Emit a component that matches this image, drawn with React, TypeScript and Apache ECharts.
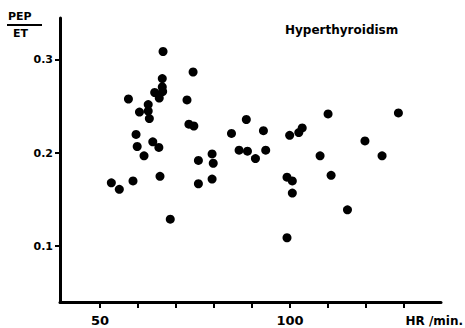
import React, { useEffect, useRef } from "react";
import * as echarts from "echarts";

const hr = [
  53.0, 55.1, 58.7, 57.5, 59.5, 59.8, 60.4, 61.6, 62.7, 62.7, 63.0, 63.9, 65.5,
  64.4, 65.6, 66.5, 66.4, 66.4, 66.6, 65.8, 68.5, 72.9, 73.4, 74.7, 74.5, 75.9,
  75.9, 79.5, 79.8, 79.5, 84.6, 88.5, 86.6, 88.8, 90.9, 93.0, 93.6, 99.9, 102.3,
  103.2, 99.2, 100.6, 100.6, 99.2, 107.9, 110.0, 110.8, 115.1, 119.7, 124.2, 128.5,
];
const pepEt = [
  0.168, 0.161, 0.17, 0.258, 0.22, 0.207, 0.244, 0.197, 0.252, 0.245, 0.237,
  0.212, 0.206, 0.265, 0.259, 0.266, 0.28, 0.271, 0.309, 0.175, 0.129, 0.257,
  0.231, 0.229, 0.287, 0.192, 0.167, 0.199, 0.189, 0.172, 0.221, 0.236, 0.203,
  0.202, 0.194, 0.224, 0.203, 0.219, 0.222, 0.227, 0.174, 0.17, 0.157, 0.109,
  0.197, 0.242, 0.176, 0.139, 0.213, 0.197, 0.243,
];
const xTicks = [50, 60, 70, 80, 90, 100, 110, 120, 130];
const xLabels = [50, 100];
const yTicks = [0.1, 0.2, 0.3];
const title = "Hyperthyroidism";
const xName = "HR /min.";
const yNameTop = "PEP";
const yNameBottom = "ET";

const FONT = "DejaVu Sans";

export default function App() {
  const ref = useRef<HTMLDivElement>(null);
  useEffect(() => {
    if (!ref.current) return;
    const chart = echarts.init(ref.current, null, { renderer: "svg" });
    const data = hr.map((x, i) => [x, pepEt[i]]);
    chart.setOption({
      animation: false,
      backgroundColor: "#fff",
      grid: { left: 60, right: 24, top: 18, bottom: 26, containLabel: false },
      xAxis: {
        type: "value",
        min: 39.5,
        max: 139.7,
        splitLine: { show: false },
        axisLine: { show: true, lineStyle: { color: "#000", width: 3 } },
        axisTick: {
          show: true,
          inside: false,
          length: 6,
          lineStyle: { color: "#000", width: 2 },
          customValues: xTicks,
        },
        axisLabel: {
          customValues: xLabels,
          margin: 12,
          color: "#000",
          fontFamily: FONT,
          fontWeight: "bold",
          fontSize: 13,
        },
      },
      yAxis: {
        type: "value",
        min: 0.04,
        max: 0.345,
        splitLine: { show: false },
        axisLine: { show: true, lineStyle: { color: "#000", width: 3 } },
        axisTick: {
          show: true,
          inside: false,
          length: 5,
          lineStyle: { color: "#000", width: 2 },
          customValues: yTicks,
        },
        axisLabel: {
          customValues: yTicks,
          margin: 7,
          color: "#000",
          fontFamily: FONT,
          fontWeight: "bold",
          fontSize: 11,
          formatter: (v: number) => v.toFixed(1),
        },
      },
      graphic: [
        {
          type: "text",
          left: 285,
          top: 24,
          style: {
            text: title,
            fill: "#000",
            font: `bold 12px "${FONT}"`,
          },
        },
        {
          type: "text",
          right: 2,
          top: 315,
          style: {
            text: xName,
            fill: "#000",
            font: `bold 12px "${FONT}"`,
          },
        },
        {
          type: "text",
          left: 8,
          top: 11,
          style: {
            text: yNameTop,
            fill: "#000",
            font: `bold 11px "${FONT}"`,
          },
        },
        {
          type: "line",
          shape: { x1: 7, y1: 25, x2: 42, y2: 25 },
          style: { stroke: "#000", lineWidth: 2 },
        },
        {
          type: "text",
          left: 13,
          top: 28,
          style: {
            text: yNameBottom,
            fill: "#000",
            font: `bold 11px "${FONT}"`,
          },
        },
      ],
      series: [
        {
          type: "scatter",
          data,
          symbol: "circle",
          symbolSize: 9,
          itemStyle: { color: "#000", opacity: 1 },
        },
      ],
    });
    return () => chart.dispose();
  }, []);
  return <div ref={ref} style={{ width: 465, height: 328, position: "absolute", left: 0, top: 0 }} />;
}
